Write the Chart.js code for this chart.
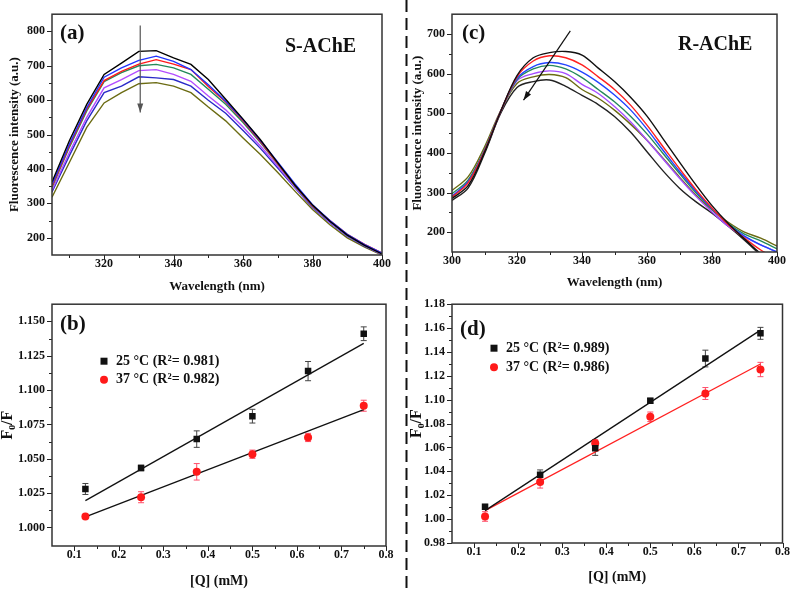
<!DOCTYPE html>
<html>
<head>
<meta charset="utf-8">
<script src="https://cdn.jsdelivr.net/npm/chart.js@4.4.1/dist/chart.umd.min.js"></script>
<style>
  body { margin: 0; background: #fff; width: 792px; height: 591px; position: relative; overflow: hidden; }
  canvas, svg { position: absolute; }
</style>
</head>
<body>
<canvas id="chartA" width="400" height="295" style="left:0;top:0"></canvas>
<canvas id="chartC" width="392" height="295" style="left:400px;top:0"></canvas>
<canvas id="chartB" width="400" height="301" style="left:0;top:290px"></canvas>
<canvas id="chartD" width="392" height="301" style="left:400px;top:290px"></canvas>
<svg width="792" height="591" style="left:0;top:0">
  <line x1="406.5" y1="0" x2="406.5" y2="591" stroke="#111" stroke-width="2" stroke-dasharray="12 6"/>
</svg>
<script>
// (a) S-AChE spectra
var wlA = [305,310,315,320,325,330,335,340,345,350,355,360,365,370,375,380,385,390,395,400];
var aBlack  = [362,482,588,675,708,742,744,723,704,660,603,545,485,418,352,295,248,208,178,153];
var aBlue   = [355,472,578,667,694,716,728,713,689,645,597,543,483,420,356,296,250,210,180,156];
var aRed    = [350,468,574,657,684,705,718,705,689,640,595,540,480,416,352,293,250,210,181,156];
var aGreen  = [346,463,569,654,680,700,704,694,675,632,588,535,477,414,350,292,248,208,179,154];
var aViolet = [338,448,550,636,660,686,689,675,655,612,572,522,467,408,346,290,245,206,177,152];
var aNavy   = [333,439,540,622,641,668,665,660,641,600,562,512,460,403,345,288,244,205,176,152];
var aOlive  = [318,419,521,592,622,648,651,641,622,580,540,490,442,390,335,282,238,200,173,150];

// (c) R-AChE spectra
var wlC = [300,305,310,315,320,325,330,335,340,345,350,355,360,365,370,375,380,385,390,395,400];
var cBlack  = [285,318,402,505,595,640,653,656,647,614,580,540,493,435,377,320,267,222,183,146,122];
var cRed    = [288,325,405,505,592,632,645,640,622,592,560,520,470,415,360,308,261,219,185,155,132];
var cBlue   = [290,328,406,505,588,618,628,622,604,578,546,508,460,406,353,304,259,220,190,168,150];
var cGreen  = [297,332,408,505,585,612,621,612,590,560,529,492,448,398,348,300,258,222,195,178,158];
var cViolet = [290,330,406,505,582,600,607,600,573,550,517,478,432,384,336,291,251,215,188,168,150];
var cOlive  = [305,340,415,507,575,592,598,590,560,538,508,472,432,386,339,294,256,225,200,185,165];
var cBlack2 = [280,312,398,500,565,580,584,568,545,522,492,452,403,354,311,277,248,215,180,143,120];

// Stern-Volmer plots
var conc = [0.125,0.25,0.375,0.5,0.625,0.75];
var fitX = [0.125,0.75];
var b25 = [1.028,1.0433,1.0643,1.081,1.1138,1.141];
var b25err = [0.004,0.002,0.006,0.005,0.007,0.005];
var b37 = [1.0079,1.022,1.0405,1.0533,1.0655,1.0886];
var b37err = [0.001,0.004,0.006,0.003,0.003,0.004];
var bFit25 = [1.0195,1.134];
var bFit37 = [1.0077,1.0857];
var d25 = [1.0103,1.0372,1.0594,1.0992,1.1345,1.1556];
var d25err = [0.002,0.004,0.006,0.002,0.007,0.005];
var d37 = [1.0022,1.031,1.0635,1.0857,1.1052,1.1253];
var d37err = [0.004,0.005,0.003,0.004,0.005,0.006];
var dFit25 = [1.0071,1.1583];
var dFit37 = [1.0071,1.1299];

// tick values
var xTicksA = [320,340,360,380,400];
var xMinorA = [310,330,350,370,390];
var yTicksA = [200,300,400,500,600,700,800];
var yMinorA = [250,350,450,550,650,750];
var xTicksC = [300,320,340,360,380,400];
var xMinorC = [310,330,350,370,390];
var yTicksC = [200,300,400,500,600,700];
var yMinorC = [250,350,450,550,650];
var xTicksQ = [0.1,0.2,0.3,0.4,0.5,0.6,0.7,0.8];
var xMinorQ = [0.15,0.25,0.35,0.45,0.55,0.65,0.75];
var yTicksB = [1.000,1.025,1.050,1.075,1.100,1.125,1.150];
var yMinorB = [1.0125,1.0375,1.0625,1.0875,1.1125,1.1375];
var yTicksD = [0.98,1.00,1.02,1.04,1.06,1.08,1.10,1.12,1.14,1.16,1.18];
var yMinorD = [0.99,1.01,1.03,1.05,1.07,1.09,1.11,1.13,1.15,1.17];

var SERIF = '"Liberation Serif", "DejaVu Serif", serif';
Chart.defaults.font.family = SERIF;
Chart.defaults.color = '#111';

function pts(xs, ys) {
  return xs.map(function (x, i) { return { x: x, y: ys[i] }; });
}

function spectrum(xs, ys, color, tension) {
  return { data: pts(xs, ys), showLine: true, borderColor: color, borderWidth: 1.4,
           pointRadius: 0, tension: tension };
}

var deco = {
  id: 'deco',
  beforeDatasetsDraw: function (chart, args, o) {
    var ctx = chart.ctx, sx = chart.scales.x, sy = chart.scales.y;
    ctx.save();
    (o.errors || []).forEach(function (e) {
      ctx.strokeStyle = e.color;
      ctx.lineWidth = 1;
      ctx.beginPath();
      e.y.forEach(function (v, i) {
        var px = sx.getPixelForValue(conc[i]);
        var y1 = sy.getPixelForValue(v - e.err[i]);
        var y2 = sy.getPixelForValue(v + e.err[i]);
        ctx.moveTo(px, y1); ctx.lineTo(px, y2);
        ctx.moveTo(px - 3, y1); ctx.lineTo(px + 3, y1);
        ctx.moveTo(px - 3, y2); ctx.lineTo(px + 3, y2);
      });
      ctx.stroke();
    });
    ctx.restore();
  },
  afterDraw: function (chart, args, o) {
    var ctx = chart.ctx, a = chart.chartArea, sx = chart.scales.x, sy = chart.scales.y;
    ctx.save();
    // ticks, outward
    ctx.strokeStyle = '#222';
    ctx.lineWidth = 1;
    ctx.beginPath();
    function tx(v, len) {
      var p = Math.round(sx.getPixelForValue(v)) + 0.5;
      ctx.moveTo(p, a.bottom); ctx.lineTo(p, a.bottom + len);
    }
    function ty(v, len) {
      var p = Math.round(sy.getPixelForValue(v)) + 0.5;
      ctx.moveTo(a.left, p); ctx.lineTo(a.left - len, p);
    }
    sx.ticks.forEach(function (t) { tx(t.value, 5); });
    sy.ticks.forEach(function (t) { ty(t.value, 5); });
    o.minorX.forEach(function (v) { tx(v, 3); });
    o.minorY.forEach(function (v) { ty(v, 3); });
    ctx.stroke();
    // frame
    ctx.strokeStyle = '#333';
    ctx.lineWidth = 1.5;
    ctx.strokeRect(a.left, a.top, a.right - a.left, a.bottom - a.top);

    // arrow
    if (o.arrow) {
      var x1 = sx.getPixelForValue(o.arrow[0]), y1 = sy.getPixelForValue(o.arrow[1]);
      var x2 = sx.getPixelForValue(o.arrow[2]), y2 = sy.getPixelForValue(o.arrow[3]);
      var ang = Math.atan2(y2 - y1, x2 - x1);
      ctx.strokeStyle = o.arrowColor;
      ctx.fillStyle = o.arrowColor;
      ctx.lineWidth = 1.2;
      ctx.beginPath(); ctx.moveTo(x1, y1); ctx.lineTo(x2, y2); ctx.stroke();
      ctx.beginPath();
      ctx.moveTo(x2, y2);
      ctx.lineTo(x2 - 9 * Math.cos(ang) + 3 * Math.sin(ang), y2 - 9 * Math.sin(ang) - 3 * Math.cos(ang));
      ctx.lineTo(x2 - 9 * Math.cos(ang) - 3 * Math.sin(ang), y2 - 9 * Math.sin(ang) + 3 * Math.cos(ang));
      ctx.closePath(); ctx.fill();
    }

    // panel tag and name
    ctx.fillStyle = '#111';
    ctx.textBaseline = 'middle';
    ctx.textAlign = 'left';
    ctx.font = 'bold 21px ' + SERIF;
    ctx.fillText(o.tag, a.left + o.tagAt[0], a.top + o.tagAt[1]);
    if (o.name) {
      ctx.font = 'bold 20px ' + SERIF;
      ctx.fillText(o.name, a.left + o.nameAt[0], a.top + o.nameAt[1]);
    }

    // legend
    if (o.legend) {
      ctx.font = 'bold 14px ' + SERIF;
      o.legend.forEach(function (it, i) {
        var cx = a.left + o.legendAt[0], cy = a.top + o.legendAt[1] + i * o.legendAt[2];
        ctx.fillStyle = it.color;
        ctx.beginPath();
        if (it.style === 'rect') ctx.rect(cx - 3.5, cy - 3.5, 7, 7);
        else ctx.arc(cx, cy, 4, 0, Math.PI * 2);
        ctx.fill();
        ctx.fillStyle = '#111';
        ctx.fillText(it.text, cx + o.legendAt[3], cy);
      });
    }
    ctx.restore();
  }
};

function axes(cfg) {
  var tickFont = { family: SERIF, weight: 'bold', size: 12 };
  return {
    x: {
      type: 'linear', min: cfg.xMin, max: cfg.xMax,
      grid: { display: false, drawTicks: false }, border: { display: false },
      afterBuildTicks: function (s) { s.ticks = cfg.xTicks.map(function (v) { return { value: v }; }); },
      afterFit: function (s) { s.height = cfg.xH; },
      ticks: { font: tickFont, color: '#111', padding: 2, maxRotation: 0, autoSkip: false,
               callback: function (v) { return cfg.xFmt(v); } },
      title: { display: true, text: cfg.xTitle, color: '#111',
               font: { family: SERIF, weight: 'bold', size: cfg.xTitleSize, lineHeight: 1.2 },
               padding: { top: 0, bottom: cfg.xTitlePad } }
    },
    y: {
      type: 'linear', min: cfg.yMin, max: cfg.yMax,
      grid: { display: false, drawTicks: false }, border: { display: false },
      afterBuildTicks: function (s) { s.ticks = cfg.yTicks.map(function (v) { return { value: v }; }); },
      afterFit: function (s) { s.width = 52; },
      ticks: { font: tickFont, color: '#111', padding: 7,
               callback: function (v) { return cfg.yFmt(v); } },
      title: { display: true, text: cfg.yTitle, color: '#111',
               font: { family: SERIF, weight: 'bold', size: cfg.yTitleSize, lineHeight: 1 },
               padding: { top: cfg.yTitlePad, bottom: 0 } }
    }
  };
}

function base(pad, scales, deco_) {
  return {
    responsive: false, animation: false,
    layout: { autoPadding: false, padding: pad },
    plugins: { legend: { display: false }, tooltip: { enabled: false }, deco: deco_ },
    scales: scales
  };
}

new Chart('chartA', {
  type: 'scatter',
  plugins: [deco],
  data: { datasets: [
    spectrum(wlA, aBlack, '#000000', 0),
    spectrum(wlA, aBlue, '#2233ff', 0),
    spectrum(wlA, aRed, '#ff1a1a', 0),
    spectrum(wlA, aGreen, '#24895a', 0),
    spectrum(wlA, aViolet, '#b34dff', 0),
    spectrum(wlA, aNavy, '#2a2ac8', 0),
    spectrum(wlA, aOlive, '#6b6b12', 0)
  ] },
  options: base({ left: 0, top: 13, right: 18, bottom: 0 },
    axes({ xMin: 305, xMax: 400, xTicks: xTicksA, xH: 40, xFmt: String,
           xTitle: 'Wavelength (nm)', xTitleSize: 13, xTitlePad: 1,
           yMin: 150, yMax: 850, yTicks: yTicksA, yFmt: String,
           yTitle: 'Fluorescence intensity (a.u.)', yTitleSize: 13, yTitlePad: 8 }),
    { minorX: xMinorA, minorY: yMinorA, tag: '(a)', tagAt: [8, 19], name: 'S-AChE', nameAt: [233, 33],
      arrow: [330.4, 817, 330.4, 564], arrowColor: '#555' })
});

new Chart('chartC', {
  type: 'scatter',
  plugins: [deco],
  data: { datasets: [
    spectrum(wlC, cBlack, '#111111', 0.35),
    spectrum(wlC, cRed, '#ff2020', 0.35),
    spectrum(wlC, cBlue, '#2244ff', 0.35),
    spectrum(wlC, cGreen, '#24895a', 0.35),
    spectrum(wlC, cViolet, '#a64dff', 0.35),
    spectrum(wlC, cOlive, '#6b6b12', 0.35),
    spectrum(wlC, cBlack2, '#222222', 0.35)
  ] },
  options: base({ left: 0, top: 14, right: 15, bottom: 0 },
    axes({ xMin: 300, xMax: 400, xTicks: xTicksC, xH: 43, xFmt: String,
           xTitle: 'Wavelength (nm)', xTitleSize: 13, xTitlePad: 5,
           yMin: 150, yMax: 750, yTicks: yTicksC, yFmt: String,
           yTitle: 'Fluorescence intensity (a.u.)', yTitleSize: 13, yTitlePad: 11 }),
    { minorX: xMinorC, minorY: yMinorC, tag: '(c)', tagAt: [10, 19], name: 'R-AChE', nameAt: [226, 31],
      arrow: [336.4, 708, 322, 533], arrowColor: '#111' })
});

function svPlot(red, y25, y37, f25, f37) {
  return [
    { data: pts(conc, y25), pointStyle: 'rect', pointRadius: 4.6, backgroundColor: '#111', borderColor: '#111', borderWidth: 0 },
    { data: pts(conc, y37), pointStyle: 'circle', pointRadius: 4, backgroundColor: '#ff1a1a', borderColor: '#ff1a1a', borderWidth: 0 },
    { data: pts(fitX, f25), showLine: true, pointRadius: 0, borderColor: '#111', borderWidth: 1.3 },
    { data: pts(fitX, f37), showLine: true, pointRadius: 0, borderColor: red ? '#ff2020' : '#111', borderWidth: 1.3 }
  ];
}

new Chart('chartB', {
  type: 'scatter',
  plugins: [deco],
  data: { datasets: svPlot(false, b25, b37, bFit25, bFit37) },
  options: base({ left: 0, top: 9, right: 14, bottom: 0 },
    axes({ xMin: 0.05, xMax: 0.8, xTicks: xTicksQ, xH: 45, xFmt: function (v) { return v.toFixed(1); },
           xTitle: '[Q] (mM)', xTitleSize: 14, xTitlePad: 1,
           yMin: 0.9865, yMax: 1.1625, yTicks: yTicksB, yFmt: function (v) { return v.toFixed(3); },
           yTitle: 'F\u2080/F', yTitleSize: 16, yTitlePad: 0 }),
    { minorX: xMinorQ, minorY: yMinorB, tag: '(b)', tagAt: [8, 20],
      legend: [{ style: 'rect', color: '#111', text: '25 \u00B0C (R\u00B2= 0.981)' },
               { style: 'circle', color: '#ff1a1a', text: '37 \u00B0C (R\u00B2= 0.982)' }],
      legendAt: [52, 57, 18.5, 12],
      errors: [{ y: b25, err: b25err, color: '#444' }, { y: b37, err: b37err, color: '#ff4d6a' }] })
});

new Chart('chartD', {
  type: 'scatter',
  plugins: [deco],
  data: { datasets: svPlot(true, d25, d37, dFit25, dFit37) },
  options: base({ left: 0, top: 7, right: 8, bottom: 0 },
    axes({ xMin: 0.05, xMax: 0.8, xTicks: xTicksQ, xH: 48, xFmt: function (v) { return v.toFixed(1); },
           xTitle: '[Q] (mM)', xTitleSize: 14, xTitlePad: 5,
           yMin: 0.98, yMax: 1.18, yTicks: yTicksD, yFmt: function (v) { return v.toFixed(2); },
           yTitle: 'F\u2080/F', yTitleSize: 16, yTitlePad: 9 }),
    { minorX: xMinorQ, minorY: yMinorD, tag: '(d)', tagAt: [8, 25],
      legend: [{ style: 'rect', color: '#111', text: '25 \u00B0C (R\u00B2= 0.989)' },
               { style: 'circle', color: '#ff1a1a', text: '37 \u00B0C (R\u00B2= 0.986)' }],
      legendAt: [42, 44, 19, 12],
      errors: [{ y: d25, err: d25err, color: '#444' }, { y: d37, err: d37err, color: '#ff4d6a' }] })
});
</script>
</body>
</html>
